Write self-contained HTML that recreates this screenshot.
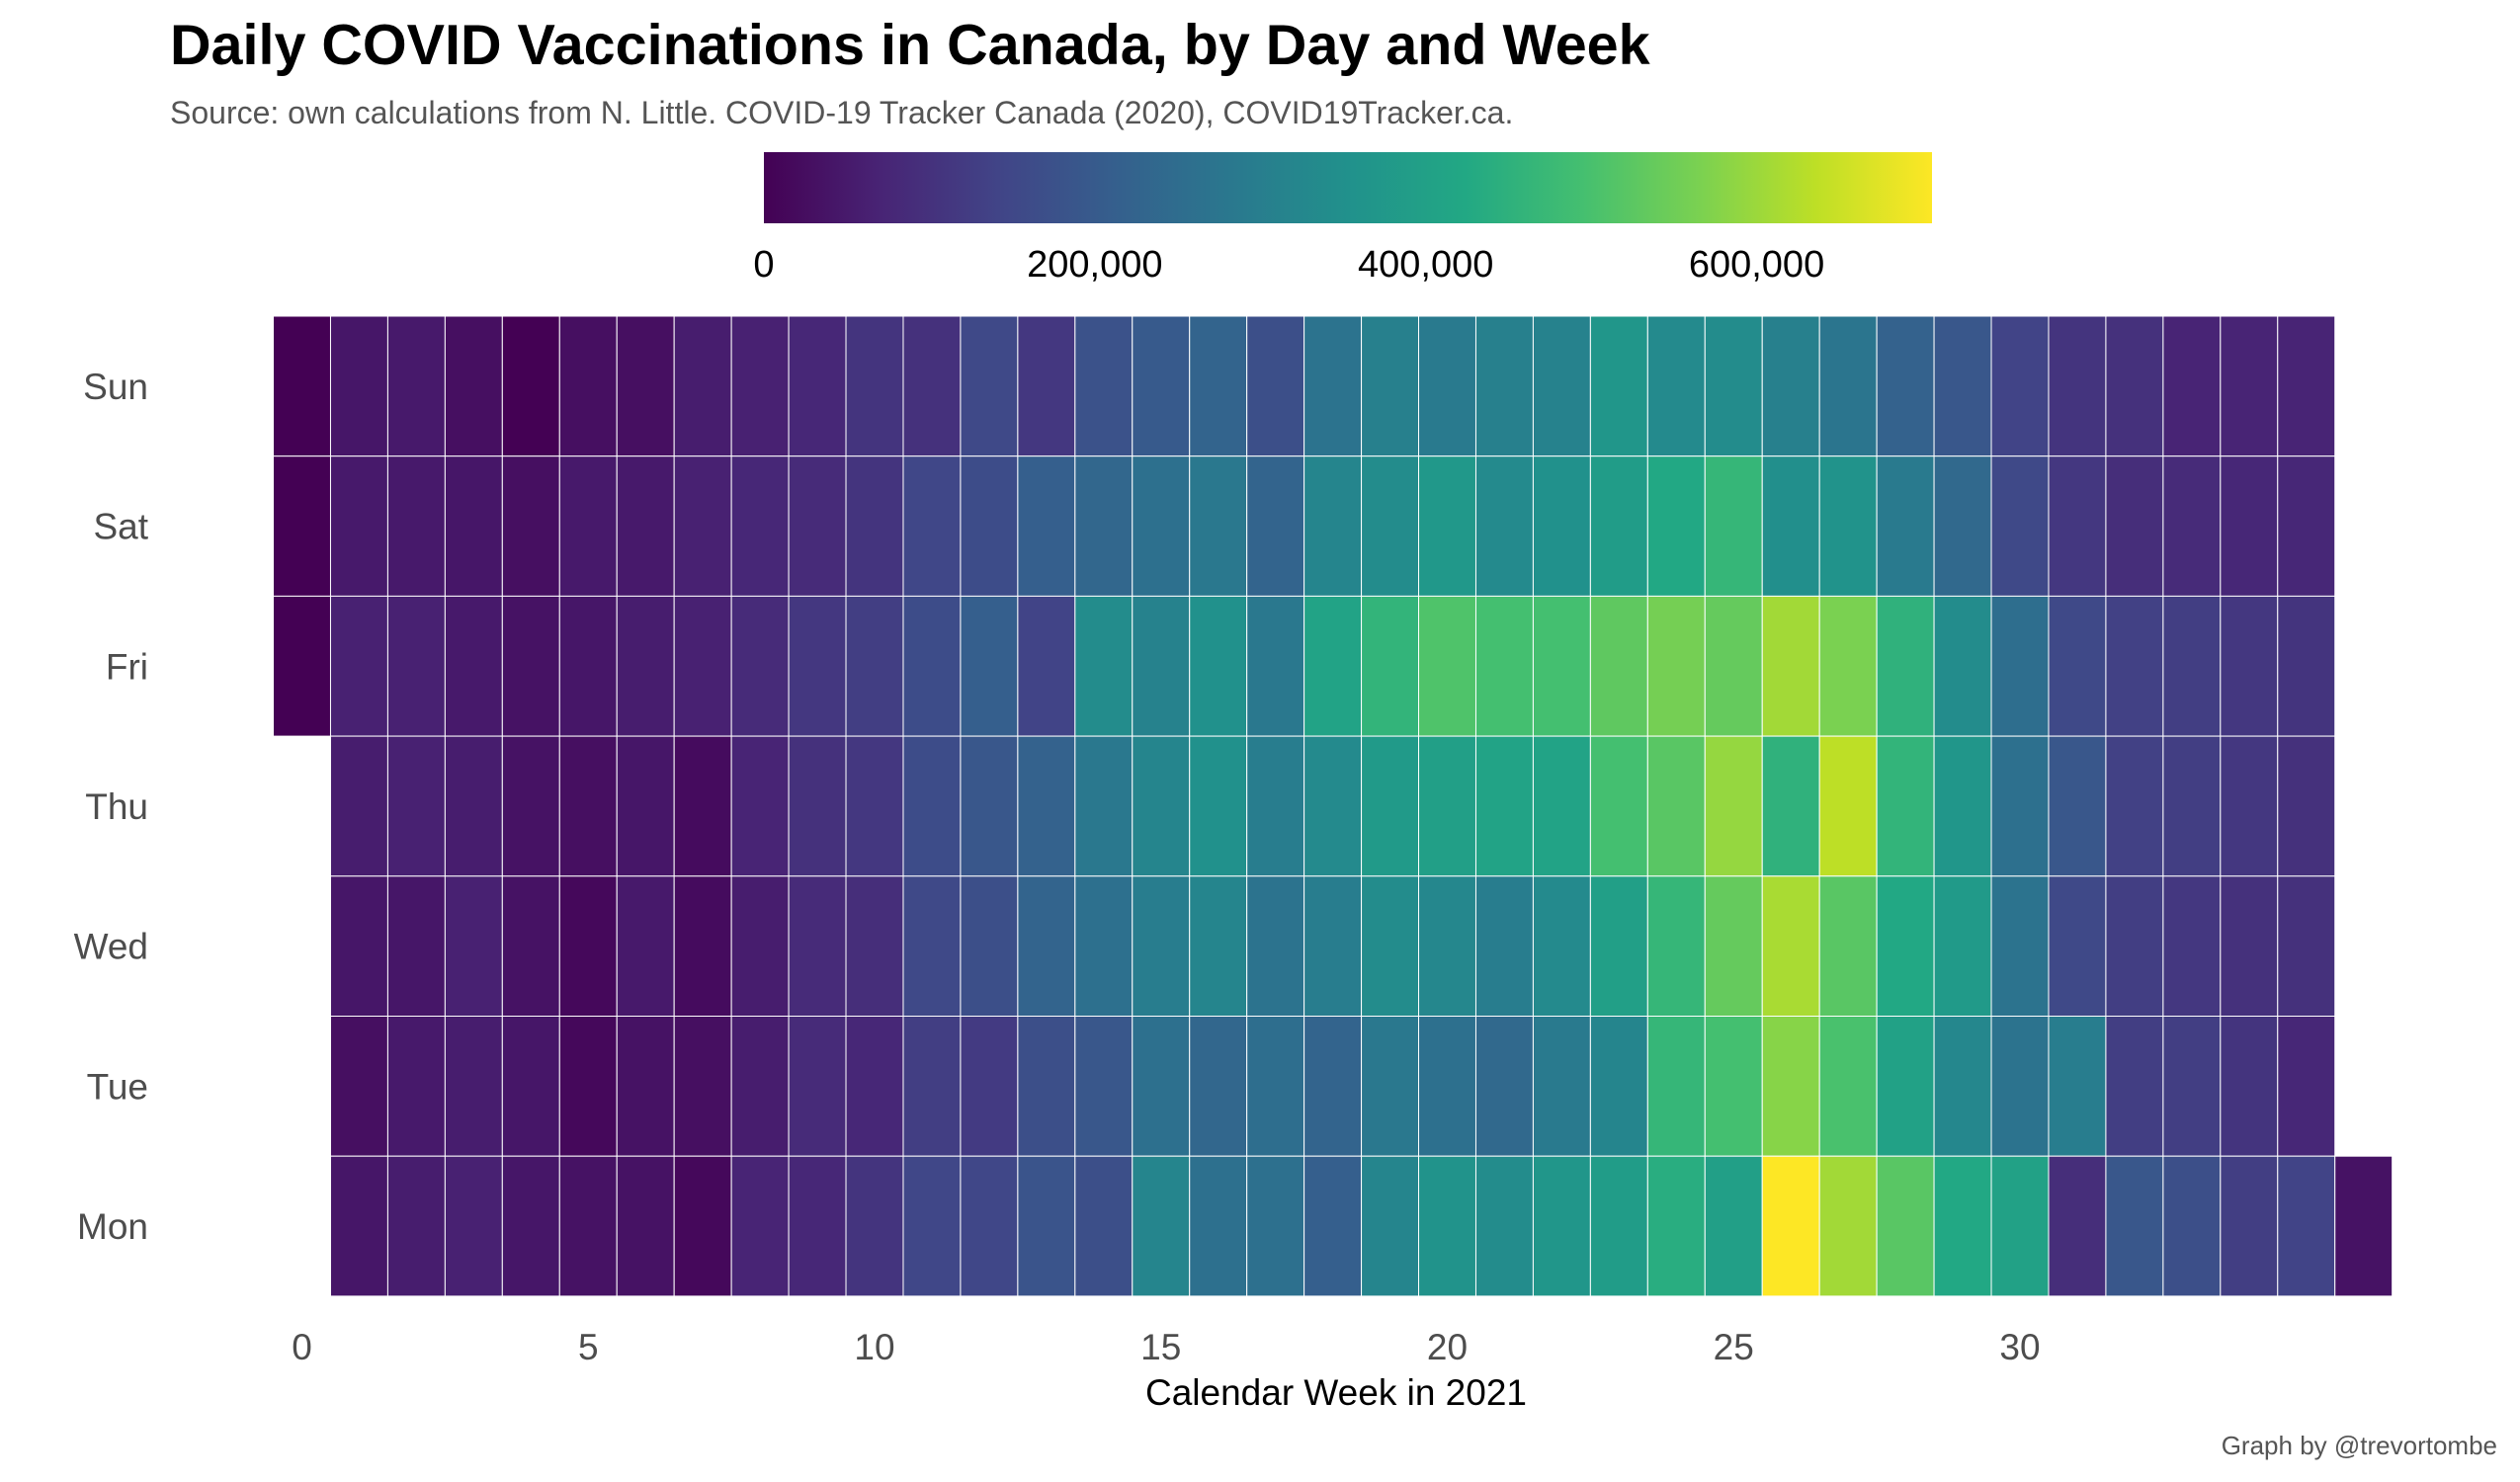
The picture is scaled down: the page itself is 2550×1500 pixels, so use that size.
<!DOCTYPE html>
<html><head><meta charset="utf-8"><style>
html,body{margin:0;padding:0;background:#fff;}
svg{display:block;font-family:"Liberation Sans",Arial,sans-serif;}
</style></head><body>
<svg id="chart" width="2550" height="1500" viewBox="0 0 2550 1500">
<defs>
<linearGradient id="vir" x1="0" x2="1" y1="0" y2="0">
<stop offset="0" stop-color="#440154"/><stop offset="0.1" stop-color="#482475"/><stop offset="0.2" stop-color="#414487"/><stop offset="0.3" stop-color="#355f8d"/><stop offset="0.4" stop-color="#2a788e"/><stop offset="0.5" stop-color="#21918c"/><stop offset="0.6" stop-color="#22a884"/><stop offset="0.7" stop-color="#44bf70"/><stop offset="0.8" stop-color="#7ad151"/><stop offset="0.9" stop-color="#bddf26"/><stop offset="1" stop-color="#fde725"/>
</linearGradient>
</defs>
<text x="172" y="65" font-size="57.5" font-weight="bold" fill="#000">Daily COVID Vaccinations in Canada, by Day and Week</text>
<text x="172" y="125" font-size="32" fill="#555">Source: own calculations from N. Little. COVID-19 Tracker Canada (2020), COVID19Tracker.ca.</text>
<rect x="773" y="154" width="1182" height="72" fill="url(#vir)"/>
<g id="legend"></g>
<g id="cells"></g>
<g id="yaxis"></g>
<g id="xaxis"></g>
<text x="1352" y="1422" font-size="37" fill="#000" text-anchor="middle">Calendar Week in 2021</text>
<text x="2527" y="1472" font-size="26" fill="#555" text-anchor="end">Graph by @trevortombe</text>
</svg>
<script>
// values in thousands of doses, weeks 0..36
const days = ["Sun","Sat","Fri","Thu","Wed","Tue","Mon"];
const weeks = [0,1,2,3,4,5,6,7,8,9,10,11,12,13,14,15,16,17,18,19,20,21,22,23,24,25,26,27,28,29,30,31,32,33,34,35,36];
const sun = [0,42,49,28,0,28,28,56,64,78,106,99,155,113,177,198,226,169,268,304,289,304,311,367,332,339,304,275,219,191,141,106,99,71,71,71,null];
const sat = [0,49,49,42,28,49,49,64,78,85,106,148,162,212,233,261,282,226,318,339,374,332,353,388,424,466,346,360,289,240,155,113,92,85,78,78,null];
const fri = [0,64,64,49,35,42,56,64,85,113,127,162,212,141,339,311,353,282,409,459,508,494,494,530,558,537,607,565,452,339,254,155,134,127,113,106,null];
const thu = [null,56,64,56,35,28,42,21,71,99,113,162,191,219,282,318,353,297,332,381,395,409,409,494,522,593,452,635,459,367,261,191,134,127,113,99,null];
const wed = [null,42,42,64,35,14,49,21,56,85,92,155,169,226,261,297,318,268,297,339,325,297,332,395,466,537,614,522,424,381,268,155,127,113,99,99,null];
const tue = [null,28,49,56,42,14,35,28,56,85,78,127,120,169,191,261,233,254,226,282,261,240,289,318,466,494,579,501,402,325,268,297,127,127,106,78,null];
const mon = [null,42,56,64,42,35,35,14,71,78,106,148,148,184,169,318,261,261,212,318,360,339,367,388,438,395,706,607,522,424,402,92,191,169,127,141,35];
const rows = [sun,sat,fri,thu,wed,tue,mon];
const vmax = 706;
const legendTicks = [0,200,400,600];
const legendLabels = ["0","200,000","400,000","600,000"];
const xTicks = [0,5,10,15,20,25,30];

const NS="http://www.w3.org/2000/svg";
const X0=305.5, CW=57.95, Y0=320, RH=141.7;
const xc = w => X0 + w*CW;
const yTop = i => Y0 + i*RH;
const legX = v => 773 + v/vmax*1182;

const stops=[[0,"#440154"],[0.1,"#482475"],[0.2,"#414487"],[0.3,"#355f8d"],[0.4,"#2a788e"],[0.5,"#21918c"],[0.6,"#22a884"],[0.7,"#44bf70"],[0.8,"#7ad151"],[0.9,"#bddf26"],[1,"#fde725"]];
function hex(h){return [1,3,5].map(i=>parseInt(h.substr(i,2),16));}
function color(v){
  let t=Math.max(0,Math.min(1,v/vmax));
  for(let i=0;i<stops.length-1;i++){
    if(t<=stops[i+1][0]){
      const a=hex(stops[i][1]),b=hex(stops[i+1][1]);
      const f=(t-stops[i][0])/(stops[i+1][0]-stops[i][0]);
      return "rgb("+a.map((c,k)=>Math.round(c+(b[k]-c)*f)).join(",")+")";
    }
  }
  return stops[stops.length-1][1];
}
const cells=document.getElementById("cells");
rows.forEach((row,i)=>{
  row.forEach((v,j)=>{
    if(v===null) return;
    const r=document.createElementNS(NS,"rect");
    r.setAttribute("x",xc(weeks[j])-CW/2);
    r.setAttribute("y",yTop(i));
    r.setAttribute("width",CW);
    r.setAttribute("height",RH);
    r.setAttribute("fill",color(v));
    r.setAttribute("stroke","#fff");
    r.setAttribute("stroke-width","1");
    
    
    cells.appendChild(r);
  });
});
const ya=document.getElementById("yaxis");
days.forEach((d,i)=>{
  const t=document.createElementNS(NS,"text");
  t.setAttribute("x",150);t.setAttribute("y",yTop(i)+RH/2+13);
  t.setAttribute("text-anchor","end");t.setAttribute("font-size","37");t.setAttribute("fill","#4d4d4d");
  t.textContent=d;
  
  
  ya.appendChild(t);
});
const xa=document.getElementById("xaxis");
xTicks.forEach(w=>{
  const t=document.createElementNS(NS,"text");
  t.setAttribute("x",xc(w));t.setAttribute("y",1376);
  t.setAttribute("text-anchor","middle");t.setAttribute("font-size","37");t.setAttribute("fill","#4d4d4d");
  t.textContent=w;
  
  
  xa.appendChild(t);
});
const lg=document.getElementById("legend");
legendTicks.forEach((v,k)=>{
  const t=document.createElementNS(NS,"text");
  t.setAttribute("x",legX(v*1));t.setAttribute("y",280);
  t.setAttribute("text-anchor","middle");t.setAttribute("font-size","38");t.setAttribute("fill","#000");
  t.textContent=legendLabels[k];
  
  
  lg.appendChild(t);
});
</script>
</body></html>
